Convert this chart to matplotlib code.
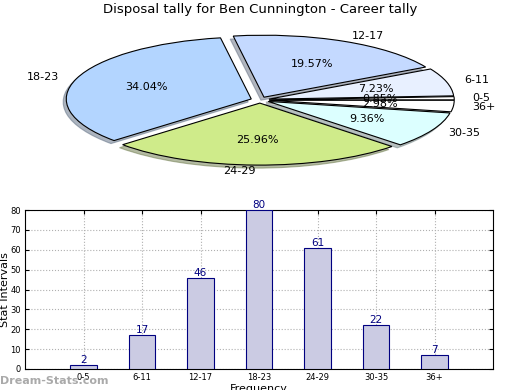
import matplotlib
matplotlib.use("Agg")
import matplotlib.pyplot as plt

categories = ["0-5", "6-11", "12-17", "18-23", "24-29", "30-35", "36+"]
counts = [2, 17, 46, 80, 61, 22, 7]
pie_colors = ["#ffffff", "#e8f0ff", "#c4d9ff", "#b3d5ff", "#cfeb8a", "#dcffff", "#ffffff"]
title = "Disposal tally for Ben Cunnington - Career tally"

fig = plt.figure(figsize=(5.2, 3.9), dpi=100)

# pie on top, squashed into an ellipse
ax_pie = fig.add_axes([0, 1 - 180 / 390, 1, 160 / 390])
ax_pie.pie(counts, labels=categories, colors=pie_colors, autopct="%.2f%%",
           explode=[0.05] * len(counts),
           shadow={"ox": -0.012, "oy": -0.035, "shade": 0.5},
           startangle=0,
           wedgeprops={"edgecolor": "black", "linewidth": 0.8},
           textprops={"fontsize": 8})
ax_pie.set_aspect("auto")
ax_pie.set_xlim(-260 / 185, 260 / 185)
ax_pie.set_ylim(-80 / 62, 80 / 62)
ax_pie.axis("off")
fig.text(0.5, 1 - 10 / 390, title, ha="center", va="center", fontsize=9.5)

# bar chart below
ax = fig.add_axes([25 / 520, 21 / 390, 468 / 520, 159 / 390])
xs = range(len(categories))
ax.bar(xs, counts, width=0.45, color="#cbcbe3", edgecolor="navy", linewidth=0.8, zorder=3)
for x, v in zip(xs, counts):
    ax.text(x, v, str(v), ha="center", va="bottom", color="navy", fontsize=7.5, zorder=4)
ax.set_xlim(-1, 7)
ax.set_ylim(0, 80)
ax.set_xticks(list(xs))
ax.set_xticklabels(categories)
ax.set_yticks(range(0, 81, 10))
ax.tick_params(labelsize=6, direction="in", top=True, right=True, length=3, pad=3)
ax.grid(True, linestyle=":", color="#b0b0b0", linewidth=0.8, zorder=0)
ax.set_ylabel("Stat Intervals", fontsize=8)
ax.yaxis.set_label_coords(-0.032, 0.5)
ax.set_xlabel("Frequency", fontsize=8, labelpad=1)

fig.text(0.0, 9 / 390, "Dream-Stats.com", ha="left", va="center",
         fontsize=8, color="#aaaaaa", fontweight="bold")

fig.savefig("out.png", dpi=100)
